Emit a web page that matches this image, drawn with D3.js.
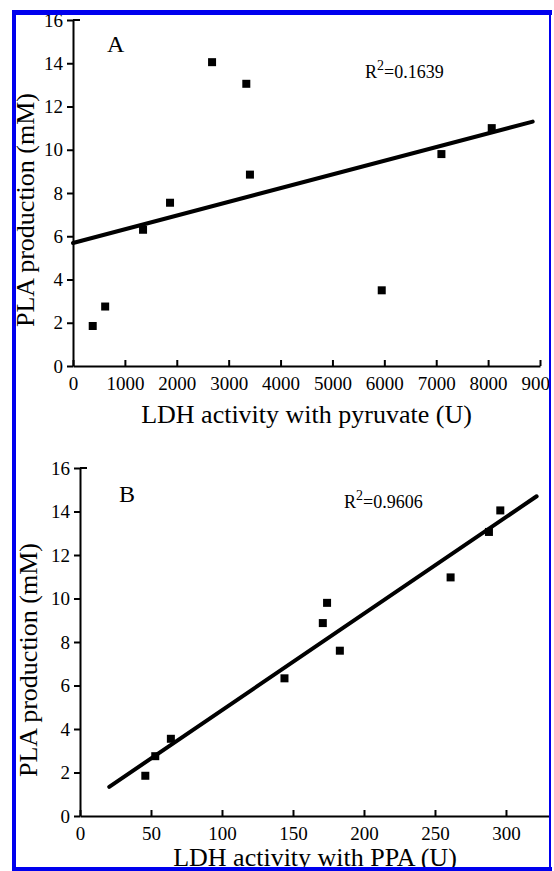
<!DOCTYPE html>
<html>
<head>
<meta charset="utf-8">
<script src="https://cdn.jsdelivr.net/npm/d3@7"></script>
<style>
  body { margin: 0; background: #fff; }
  svg text { font-family: "Liberation Serif", "Times New Roman", serif; fill: #000; }
</style>
</head>
<body>
<div class="canvas" id="canvas"></div>
<script>
// panel A: LDH activity with pyruvate vs PLA
var pyruvateU = [380, 620, 1350, 1870, 2680, 3340, 3410, 5950, 7100, 8070];
var plaA = [1.85, 2.75, 6.3, 7.55, 14.05, 13.05, 8.85, 3.5, 9.8, 11.0];
var fitAx = [0, 8860], fitAy = [5.69, 11.3];
var r2A = '0.1639';

// panel B: LDH activity with PPA vs PLA
var ppaU = [46, 53, 64, 144, 183, 171, 174, 261, 288, 296];
var plaB = [1.85, 2.75, 3.55, 6.33, 7.6, 8.87, 9.8, 10.97, 13.06, 14.05];
var fitBx = [20.6, 321.6], fitBy = [1.34, 14.7];
var r2B = '0.9606';

var ticksY = [0, 2, 4, 6, 8, 10, 12, 14, 16];
var ticksXA = [0, 1000, 2000, 3000, 4000, 5000, 6000, 7000, 8000, 9000];
var ticksXB = [0, 50, 100, 150, 200, 250, 300];

var W = 554, H = 871;
var serif = '"Liberation Serif", "Times New Roman", serif';

var svg = d3.select('.canvas')
    .append('svg')
    .attr('width', W)
    .attr('height', H)
    .attr('font-family', serif);

svg.append('rect').attr('width', W).attr('height', H).attr('fill', '#fff');

svg.append('clipPath').attr('id', 'frame')
    .append('rect').attr('x', 14).attr('y', 13).attr('width', 535).attr('height', 855);

var root = svg.append('g').attr('clip-path', 'url(#frame)');

function panel(o) {
    var x = d3.scaleLinear().domain(o.xdom).range([o.x0, o.x1]);
    var y = d3.scaleLinear().domain([0, 16]).range([o.y0, o.y1]);
    var g = root.append('g');

    var ya = g.append('g')
        .attr('transform', 'translate(' + o.x0 + ',0)')
        .call(d3.axisLeft(y).tickValues(ticksY).tickFormat(d3.format('d'))
            .tickSize(6).tickPadding(4).tickSizeOuter(0));
    ya.append('line').attr('x1', 0).attr('x2', 7).attr('y1', y(16)).attr('y2', y(16))
        .attr('stroke', '#000').attr('stroke-width', 2);

    var xa = g.append('g')
        .attr('transform', 'translate(0,' + o.y0 + ')')
        .call(d3.axisBottom(x).tickValues(o.xticks).tickFormat(d3.format('d'))
            .tickSize(-6).tickPadding(11).tickSizeOuter(0));

    [ya, xa].forEach(function(a) {
        a.attr('font-family', serif).attr('font-size', 19);
        a.select('.domain').attr('stroke', '#000').attr('stroke-width', 2);
        a.selectAll('.tick line').attr('stroke', '#000').attr('stroke-width', 2);
        a.selectAll('.tick text').style('font-family', serif).style('font-size', '19px').attr('fill', '#000');
    });

    // regression line
    g.append('line')
        .attr('x1', x(o.fx[0])).attr('y1', y(o.fy[0]))
        .attr('x2', x(o.fx[1])).attr('y2', y(o.fy[1]))
        .attr('stroke', '#000').attr('stroke-width', 4).attr('stroke-linecap', 'round');

    // points
    g.selectAll('.pt')
        .data(o.xs.map(function(d, i) { return [d, o.ys[i]]; }))
        .enter()
        .append('rect')
        .attr('class', 'pt')
        .attr('x', function(d) { return x(d[0]) - 4; })
        .attr('y', function(d) { return y(d[1]) - 4; })
        .attr('width', 8).attr('height', 8)
        .attr('fill', '#000');

    g.append('text')
        .attr('x', o.letterX).attr('y', o.letterY)
        .style('font-size', '24px')
        .text(o.letter);

    var r = g.append('text')
        .attr('x', o.r2X).attr('y', o.r2Y)
        .style('font-size', '18px');
    r.append('tspan').text('R');
    r.append('tspan').attr('dy', -8).style('font-size', '14px').text('2');
    r.append('tspan').attr('dy', 8).text('=' + o.r2);

    g.append('text')
        .attr('x', (o.x0 + o.x1) / 2 + o.titleDx).attr('y', o.titleY)
        .attr('text-anchor', 'middle')
        .style('font-size', '26px')
        .text(o.xtitle);

    g.append('text')
        .attr('transform', 'translate(' + o.ytX + ',' + o.ytY + ') rotate(-90)')
        .attr('text-anchor', 'middle')
        .style('font-size', '26px')
        .text('PLA production (mM)');
}

panel({
    xs: pyruvateU, ys: plaA, fx: fitAx, fy: fitAy, r2: r2A,
    xdom: [0, 9000], xticks: ticksXA,
    x0: 73, x1: 540, y0: 366, y1: 20,
    letter: 'A', letterX: 107, letterY: 52,
    r2X: 365, r2Y: 78,
    xtitle: 'LDH activity with pyruvate (U)', titleY: 423, titleDx: 0,
    ytX: 34, ytY: 210
});

panel({
    xs: ppaU, ys: plaB, fx: fitBx, fy: fitBy, r2: r2B,
    xdom: [0, 331], xticks: ticksXB,
    x0: 80, x1: 550, y0: 816, y1: 468,
    letter: 'B', letterX: 119, letterY: 502,
    r2X: 344, r2Y: 508,
    xtitle: 'LDH activity with PPA (U)', titleY: 866, titleDx: 0,
    ytX: 37, ytY: 660
});

// blue frame
var blue = '#0000ee';
svg.append('rect').attr('x', 12).attr('y', 10).attr('width', 540).attr('height', 5).attr('fill', blue);
svg.append('rect').attr('x', 12).attr('y', 10).attr('width', 4).attr('height', 861).attr('fill', blue);
svg.append('rect').attr('x', 549).attr('y', 10).attr('width', 2).attr('height', 861).attr('fill', blue);
svg.append('rect').attr('x', 12).attr('y', 867).attr('width', 540).attr('height', 4).attr('fill', blue);
</script>
</body>
</html>
